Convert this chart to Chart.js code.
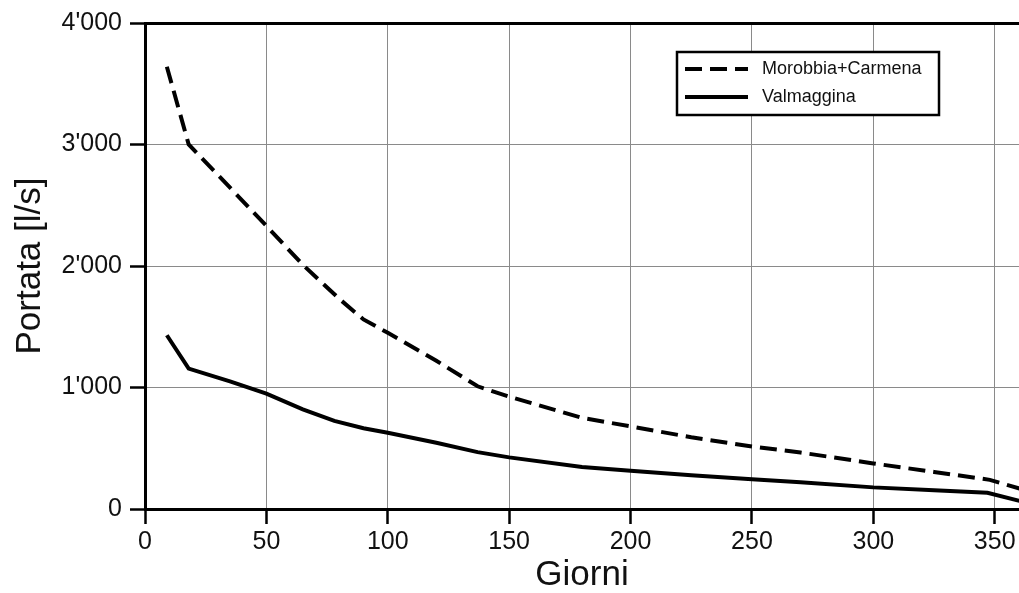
<!DOCTYPE html>
<html>
<head>
<meta charset="utf-8">
<script src="https://cdn.jsdelivr.net/npm/chart.js@4.4.1/dist/chart.umd.min.js"></script>
<style>
  html, body { margin: 0; padding: 0; background: #fff; }
  #wrap { width: 1019px; height: 593px; }
</style>
</head>
<body>
<div id="wrap"><canvas id="c" width="1019" height="593"></canvas></div>
<script>
// ---- Data ----
const seriesNames = ["Morobbia+Carmena", "Valmaggina"];
const daysMorobbia = [9, 18, 30, 50, 65, 80, 90, 100, 120, 137, 150, 180, 200, 225, 250, 270, 300, 325, 348, 365];
const flowMorobbia = [3640, 3000, 2750, 2330, 2010, 1730, 1560, 1450, 1220, 1010, 925, 750, 680, 590, 515, 465, 375, 305, 240, 140];
const daysValmaggina = [9, 18, 35, 50, 65, 78, 90, 100, 120, 137, 150, 180, 200, 225, 250, 270, 300, 325, 347, 365];
const flowValmaggina = [1430, 1155, 1050, 950, 820, 725, 665, 628, 545, 468, 425, 345, 315, 278, 244, 220, 178, 155, 133, 43];
const xTickValues = [0, 50, 100, 150, 200, 250, 300, 350];
const yTickValues = [0, 1000, 2000, 3000, 4000];
const yTickLabels = ["0", "1'000", "2'000", "3'000", "4'000"];
const xTitle = "Giorni";
const yTitle = "Portata [l/s]";

const FONT = "'Liberation Sans', Arial, Helvetica, sans-serif";

const toPoints = (xs, ys) => xs.map((x, i) => ({ x: x, y: ys[i] }));

const legendPlugin = {
  id: 'insideLegend',
  afterDraw(chart) {
    const ctx = chart.ctx;
    const x0 = 677, y0 = 52, w = 262, h = 63;
    ctx.save();
    ctx.fillStyle = '#fff';
    ctx.fillRect(x0, y0, w, h);
    ctx.lineWidth = 2.5;
    ctx.strokeStyle = '#000';
    ctx.strokeRect(x0, y0, w, h);
    chart.data.datasets.forEach((ds, i) => {
      const yy = y0 + 17 + i * 28;
      ctx.beginPath();
      ctx.setLineDash(ds.borderDash || []);
      ctx.lineWidth = ds.borderWidth;
      ctx.strokeStyle = ds.borderColor;
      ctx.moveTo(x0 + 8, yy);
      ctx.lineTo(x0 + 71, yy);
      ctx.stroke();
      ctx.setLineDash([]);
      ctx.fillStyle = '#111';
      ctx.font = "18px " + FONT;
      ctx.textBaseline = 'middle';
      ctx.textAlign = 'left';
      ctx.fillText(ds.label, x0 + 85, yy);
    });
    ctx.restore();
  }
};

new Chart(document.getElementById('c'), {
  type: 'line',
  data: {
    datasets: [
      {
        label: seriesNames[0],
        data: toPoints(daysMorobbia, flowMorobbia),
        borderColor: '#000',
        borderWidth: 4,
        borderDash: [17, 8],
        pointRadius: 0,
        tension: 0,
        fill: false
      },
      {
        label: seriesNames[1],
        data: toPoints(daysValmaggina, flowValmaggina),
        borderColor: '#000',
        borderWidth: 4,
        pointRadius: 0,
        tension: 0,
        fill: false
      }
    ]
  },
  options: {
    responsive: false,
    animation: false,
    devicePixelRatio: 1,
    layout: { padding: { top: 23, left: 13, right: 0, bottom: 0 } },
    plugins: {
      legend: { display: false },
      tooltip: { enabled: false }
    },
    scales: {
      x: {
        type: 'linear',
        min: 0,
        max: 360,
        afterFit: s => { s.height = 84; },
        afterBuildTicks: s => { s.ticks = xTickValues.map(v => ({ value: v })); },
        ticks: {
          stepSize: 50,
          includeBounds: false,
          autoSkip: false,
          maxRotation: 0,
          padding: 3,
          color: '#111',
          font: { family: FONT, size: 25 }
        },
        grid: {
          color: '#8a8a8a',
          lineWidth: 1,
          tickLength: 15,
          tickColor: '#000',
          tickWidth: 2.5
        },
        border: { display: true, color: '#000', width: 3 },
        title: {
          display: true,
          text: xTitle,
          color: '#111',
          padding: 0,
          font: { family: FONT, size: 35, lineHeight: 1.0 }
        }
      },
      y: {
        type: 'linear',
        min: 0,
        max: 4000,
        afterFit: s => { s.width = 132; },
        afterBuildTicks: s => { s.ticks = yTickValues.map(v => ({ value: v })); },
        ticks: {
          stepSize: 1000,
          padding: 8,
          color: '#111',
          font: { family: FONT, size: 25 },
          callback: (v) => yTickLabels[yTickValues.indexOf(v)]
        },
        grid: {
          color: ctx => (ctx.tick && ctx.tick.value === 4000) ? '#000' : '#8a8a8a',
          lineWidth: ctx => (ctx.tick && ctx.tick.value === 4000) ? 3 : 1,
          tickLength: 15,
          tickColor: '#000',
          tickWidth: 2.5
        },
        border: { display: true, color: '#000', width: 3 },
        title: {
          display: true,
          text: yTitle,
          color: '#111',
          padding: 0,
          font: { family: FONT, size: 35, lineHeight: 1.0 }
        }
      }
    }
  },
  plugins: [legendPlugin]
});
</script>
</body>
</html>
